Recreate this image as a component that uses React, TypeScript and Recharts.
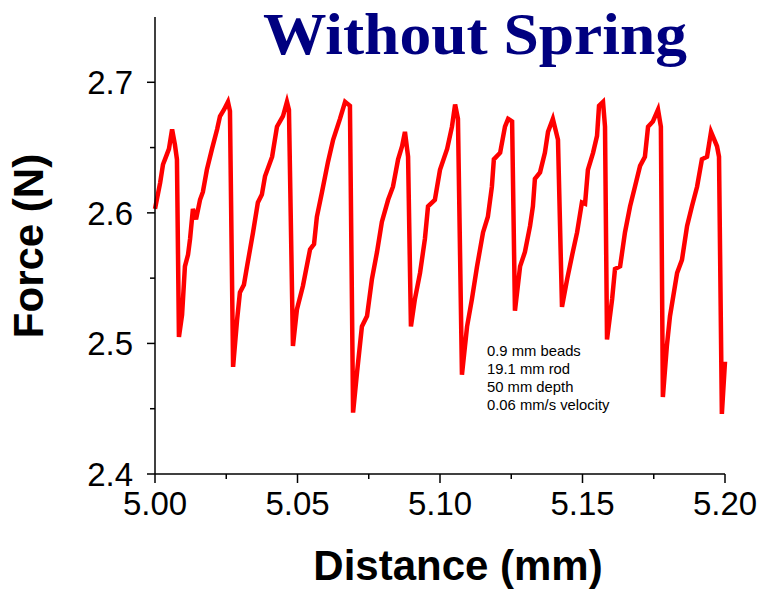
import { LineChart, Line, XAxis, YAxis } from 'recharts';

// distance (mm) and force (N)
const distance = [
  5.0, 5.0018, 5.0028, 5.0035, 5.0042, 5.0049, 5.006, 5.007, 5.0077, 5.0084,
  5.0095, 5.0105, 5.0116, 5.0123, 5.0133, 5.0144, 5.0158, 5.0168, 5.0182, 5.02,
  5.0218, 5.0228, 5.0242, 5.0256, 5.0263, 5.0274, 5.0288, 5.0298, 5.0312, 5.0323,
  5.0344, 5.0361, 5.0375, 5.0386, 5.0411, 5.0428, 5.0449, 5.0463, 5.047, 5.0484,
  5.0498, 5.0519, 5.0544, 5.0558, 5.0568, 5.0586, 5.0607, 5.0625, 5.0649, 5.0667,
  5.0684, 5.0695, 5.0709, 5.0726, 5.0744, 5.0761, 5.0779, 5.0796, 5.0818, 5.0835,
  5.0853, 5.0867, 5.0877, 5.0888, 5.0898, 5.0912, 5.093, 5.0947, 5.0958, 5.0982,
  5.1, 5.1025, 5.1042, 5.1053, 5.1063, 5.1077, 5.1095, 5.1112, 5.113, 5.1151,
  5.1168, 5.1182, 5.1189, 5.1211, 5.1228, 5.1239, 5.1253, 5.1263, 5.1281, 5.1298,
  5.1316, 5.1326, 5.1333, 5.1351, 5.1368, 5.1379, 5.1396, 5.1414, 5.1428, 5.1446,
  5.1463, 5.1481, 5.1498, 5.1509, 5.1519, 5.1537, 5.1551, 5.1558, 5.1572, 5.1579,
  5.1586, 5.1604, 5.1614, 5.1632, 5.1649, 5.1667, 5.1684, 5.1702, 5.1719, 5.173,
  5.1747, 5.1765, 5.1775, 5.1782, 5.1796, 5.1807, 5.1832, 5.1849, 5.1867, 5.1884,
  5.1902, 5.1919, 5.1937, 5.1951, 5.1972, 5.1979, 5.1989, 5.2,
];

const force = [
  2.603, 2.623, 2.637, 2.641, 2.645, 2.649, 2.664, 2.652, 2.641, 2.505,
  2.522, 2.559, 2.568, 2.58, 2.603, 2.595, 2.61, 2.616, 2.633, 2.649,
  2.664, 2.674, 2.679, 2.685, 2.678, 2.482, 2.518, 2.539, 2.545, 2.559,
  2.585, 2.608, 2.614, 2.628, 2.643, 2.666, 2.674, 2.685, 2.679, 2.498,
  2.526, 2.544, 2.572, 2.576, 2.597, 2.616, 2.639, 2.656, 2.672, 2.685,
  2.682, 2.447, 2.478, 2.513, 2.521, 2.549, 2.57, 2.593, 2.61, 2.62,
  2.641, 2.651, 2.662, 2.643, 2.513, 2.534, 2.554, 2.58, 2.605, 2.61,
  2.633, 2.649, 2.666, 2.683, 2.672, 2.476, 2.513, 2.534, 2.559, 2.585,
  2.597, 2.62, 2.641, 2.646, 2.666, 2.672, 2.67, 2.525, 2.559, 2.57,
  2.59, 2.605, 2.626, 2.631, 2.646, 2.662, 2.672, 2.656, 2.528, 2.549,
  2.567, 2.585, 2.608, 2.607, 2.633, 2.646, 2.659, 2.682, 2.685, 2.666,
  2.503, 2.534, 2.557, 2.559, 2.585, 2.605, 2.62, 2.636, 2.643, 2.666,
  2.67, 2.679, 2.666, 2.459, 2.498, 2.521, 2.554, 2.564, 2.59, 2.605,
  2.62, 2.641, 2.643, 2.662, 2.651, 2.643, 2.446, 2.486,
];

const xTicks = [5.0, 5.025, 5.05, 5.075, 5.1, 5.125, 5.15, 5.175, 5.2];
const yTicks = [2.4, 2.45, 2.5, 2.55, 2.6, 2.65, 2.7];

const notes = ['0.9 mm beads', '19.1 mm rod', '50 mm depth', '0.06 mm/s velocity'];

const data = distance.map((x, i) => ({ x, y: force[i] }));

const SANS = '"Liberation Sans", Arial, sans-serif';
const AXIS_X = 155;
const AXIS_Y = 474;

const isMajor = (v: number, step: number) => Math.abs(v / step - Math.round(v / step)) < 1e-6;

const YTick = (props: any) => {
  const { y, payload } = props;
  const major = isMajor(payload.value, 0.1);
  return (
    <g>
      <line x1={AXIS_X - (major ? 8 : 5)} x2={AXIS_X} y1={y} y2={y} stroke="#000" strokeWidth={1.5} />
      {major && (
        <text x={133} y={y + 12} textAnchor="end" fontSize={33} fontFamily={SANS} fill="#000">
          {payload.value.toFixed(1)}
        </text>
      )}
    </g>
  );
};

const XTick = (props: any) => {
  const { x, payload } = props;
  const major = isMajor(payload.value, 0.05);
  return (
    <g>
      <line x1={x} x2={x} y1={AXIS_Y} y2={AXIS_Y + (major ? 9 : 5)} stroke="#000" strokeWidth={1.5} />
      {major && (
        <text x={x} y={515} textAnchor="middle" fontSize={33} fontFamily={SANS} fill="#000">
          {payload.value.toFixed(2)}
        </text>
      )}
    </g>
  );
};

export default function App() {
  return (
    <div style={{ position: 'absolute', left: 0, top: 0, width: 777, height: 591, background: '#fff' }}>
      <LineChart width={777} height={591} data={data} margin={{ top: 17, right: 52, bottom: 0, left: 0 }}>
        <XAxis
          dataKey="x"
          type="number"
          domain={[5.0, 5.2]}
          ticks={xTicks}
          interval={0}
          height={117}
          tickLine={false}
          tick={<XTick />}
          axisLine={{ stroke: '#000', strokeWidth: 1.5 }}
        />
        <YAxis
          type="number"
          domain={[2.4, 2.75]}
          ticks={yTicks}
          interval={0}
          width={155}
          allowDataOverflow
          tickLine={false}
          tick={<YTick />}
          axisLine={{ stroke: '#000', strokeWidth: 1.5 }}
        />
        <Line
          dataKey="y"
          type="linear"
          stroke="#ff0000"
          strokeWidth={4.5}
          dot={false}
          isAnimationActive={false}
        />
      </LineChart>
      <svg
        width={777}
        height={591}
        style={{ position: 'absolute', left: 0, top: 0, pointerEvents: 'none' }}
      >
        <text
          x={475}
          y={54}
          textAnchor="middle"
          fontSize={60}
          textLength={424}
          lengthAdjust="spacingAndGlyphs"
          fontWeight="bold"
          fontFamily='"Liberation Serif", "Times New Roman", serif'
          fill="#000080"
        >
          Without Spring
        </text>
        <text x={458} y={580} textAnchor="middle" fontSize={42} fontWeight="bold" fontFamily={SANS} fill="#000">
          Distance (mm)
        </text>
        <text
          x={43}
          y={246}
          transform="rotate(-90, 43, 246)"
          textAnchor="middle"
          fontSize={42}
          fontWeight="bold"
          fontFamily={SANS}
          fill="#000"
        >
          Force (N)
        </text>
        {notes.map((t, i) => (
          <text key={t} x={487} y={356 + i * 18} fontSize={14.8} fontFamily={SANS} fill="#000">
            {t}
          </text>
        ))}
      </svg>
    </div>
  );
}
